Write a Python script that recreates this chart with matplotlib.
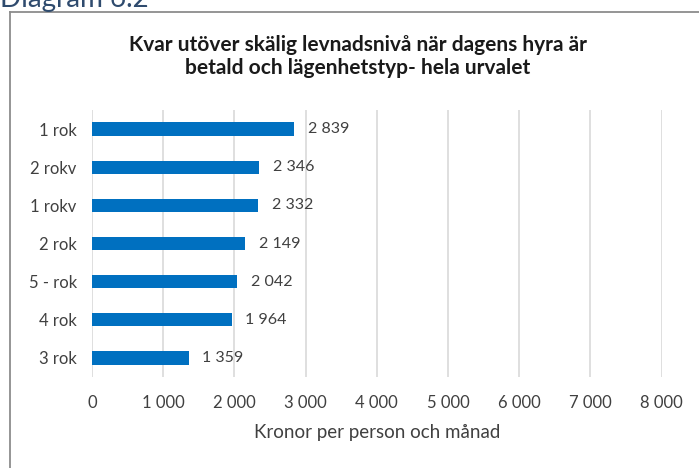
import matplotlib
matplotlib.use("Agg")
import matplotlib.pyplot as plt
from matplotlib.lines import Line2D

# ------------------------------------------------------------------
# Data (top to bottom as shown in the chart)
# ------------------------------------------------------------------
categories = ["1 rok", "2 rokv", "1 rokv", "2 rok", "5 - rok", "4 rok", "3 rok"]
values = [2839, 2346, 2332, 2149, 2042, 1964, 1359]
x_ticks = [0, 1000, 2000, 3000, 4000, 5000, 6000, 7000, 8000]

title = ("Kvar utöver skälig levnadsnivå när dagens hyra är\n"
         "betald och lägenhetstyp- hela urvalet")
xlabel = "Kronor per person och månad"


def fmt(v):
    # swedish thousands separator
    return f"{v:,}".replace(",", " ")


plt.rcParams["font.family"] = ["Lato", "DejaVu Sans"]

TEXT = "#404040"
BAR = "#0070C0"
GRID = "#D9D9D9"

fig = plt.figure(figsize=(6.99, 4.68), dpi=100)
ax = fig.add_axes([0.1316, 0.1944, 0.815, 0.5705])

y = list(range(len(categories)))
ax.barh(y, values, height=0.35, color=BAR, zorder=3)
for yi, v in zip(y, values):
    ax.text(v + 190, yi, fmt(v), va="center", ha="left", fontsize=11.5, color=TEXT)

ax.set_yticks(y)
ax.set_yticklabels(categories)
ax.set_ylim(len(categories) - 0.5, -0.5)
ax.set_xlim(0, 8000)
ax.set_xticks(x_ticks)
ax.set_xticklabels([fmt(t) for t in x_ticks])
ax.tick_params(axis="both", length=0, labelsize=12, labelcolor=TEXT)
ax.tick_params(axis="x", pad=13)
ax.tick_params(axis="y", pad=11)
ax.grid(axis="x", color=GRID, linewidth=1.2, zorder=0)
for s in ax.spines.values():
    s.set_visible(False)

ax.set_xlabel(xlabel, fontsize=13.5, color=TEXT, labelpad=9)

fig.text(0.512, 1 - 56.5 / 468, title, ha="center", va="center", fontsize=15,
         fontweight="bold", color="#1a1a1a", linespacing=1.2)

# page heading that is cut off at the top of the screenshot
fig.text(0.0, 1 - 7 / 468, "Diagram 6.2", ha="left", va="baseline",
         fontsize=20, color="#2F4B6E")

# outer frame of the chart (cut at right and bottom)
fx0, fy0 = 10 / 699, 1 - 12 / 468
fig.add_artist(Line2D([fx0, 1.0], [fy0, fy0], transform=fig.transFigure,
                      color="#8C8C8C", linewidth=1.3))
fig.add_artist(Line2D([fx0, fx0], [fy0, 0.0], transform=fig.transFigure,
                      color="#8C8C8C", linewidth=1.3))

fig.savefig("out.png", dpi=100, facecolor="white")
